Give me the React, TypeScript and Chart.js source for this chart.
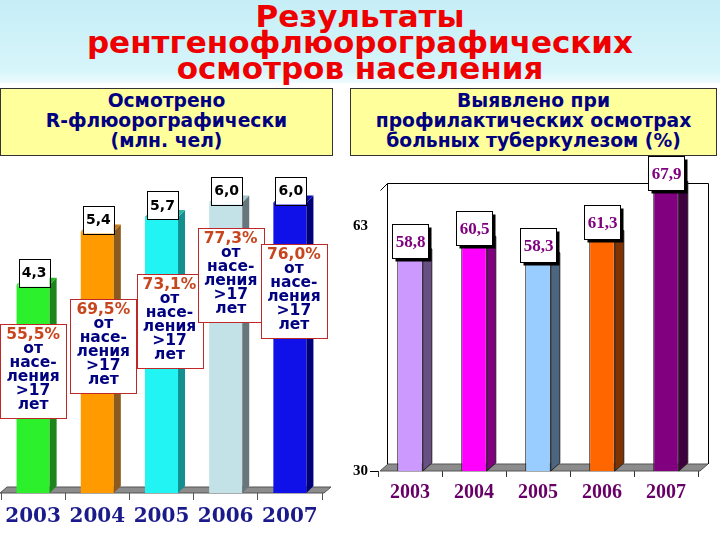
import React, { useEffect, useRef } from "react";
import { Chart, registerables } from "chart.js";

Chart.register(...registerables);

// ---------- data ----------
const years = ["2003", "2004", "2005", "2006", "2007"];
const examinedMillions = [4.3, 5.4, 5.7, 6.0, 6.0];
const shareOfAdults = [55.5, 69.5, 73.1, 77.3, 76.0];
const detectedPercent = [58.8, 60.5, 58.3, 61.3, 67.9];
const detectedTicks = [30, 63];
const shareLines = ["от", "насе-", "ления", ">17", "лет"];

// ---------- styles ----------
const leftFront = ["#2cf02c", "#ff9a00", "#22f4f4", "#c2e2e8", "#1010e8"];
const leftSide = ["#1c861c", "#8c5a1e", "#129090", "#66767a", "#00007a"];
const leftTop = ["#24b824", "#c87a10", "#2cb4a4", "#a4c6cc", "#0a0ab4"];
const rightFront = ["#cc99ff", "#ff00ff", "#99ccff", "#ff6600", "#800080"];
const rightSide = ["#6a4f84", "#80007f", "#4d6680", "#803300", "#400040"];
const rightTop = ["#a07ccc", "#c000c0", "#7aa4cc", "#cc5200", "#600060"];

// annotation layout (pixel offsets of the share boxes relative to each bar top)
const shareBoxDx = [0, 6, 8, 5, 4];
const shareBoxDy = [39, 67, 57, 25, 41];

const fmt = (v: number) => v.toFixed(1).replace(".", ",");

function barGeom(chart: any) {
  const meta = chart.getDatasetMeta(0);
  const bottom = chart.chartArea.bottom;
  return meta.data.map((b: any) => {
    const p = b.getProps(["x", "y", "base", "width"], true);
    return { x: p.x, y: p.y, width: p.width, base: Math.min(p.base, bottom) };
  });
}

function drawSides(ctx: any, bars: any[], dx: number, dy: number, side: string[], top: string[], stroke?: string) {
  bars.forEach((b: any, i: number) => {
    const l = b.x - b.width / 2;
    const r = b.x + b.width / 2;
    ctx.beginPath();
    ctx.moveTo(r, b.y);
    ctx.lineTo(r + dx, b.y - dy);
    ctx.lineTo(r + dx, b.base - dy);
    ctx.lineTo(r, b.base);
    ctx.closePath();
    ctx.fillStyle = side[i];
    ctx.fill();
    if (stroke) { ctx.strokeStyle = stroke; ctx.lineWidth = 1; ctx.stroke(); }
    ctx.beginPath();
    ctx.moveTo(l, b.y);
    ctx.lineTo(l + dx, b.y - dy);
    ctx.lineTo(r + dx, b.y - dy);
    ctx.lineTo(r, b.y);
    ctx.closePath();
    ctx.fillStyle = top[i];
    ctx.fill();
    if (stroke) { ctx.strokeStyle = stroke; ctx.lineWidth = 1; ctx.stroke(); }
  });
}

function drawFloor(ctx: any, a: any, dx: number, dy: number, x0: number, x1: number) {
  ctx.save();
  ctx.beginPath();
  ctx.moveTo(a.left + x0, a.bottom);
  ctx.lineTo(a.right + x1, a.bottom);
  ctx.lineTo(a.right + x1 + dx, a.bottom - dy);
  ctx.lineTo(a.left + x0 + dx, a.bottom - dy);
  ctx.closePath();
  ctx.fillStyle = "#8c8c8c";
  ctx.fill();
  ctx.strokeStyle = "#555";
  ctx.lineWidth = 1;
  ctx.stroke();
  ctx.restore();
}

const leftPlugin = {
  id: "left3d",
  beforeDatasetsDraw(chart: any) {
    drawFloor(chart.ctx, chart.chartArea, 7, 6, -1, 2);
  },
  afterDatasetsDraw(chart: any) {
    const ctx = chart.ctx;
    const bars = barGeom(chart);
    ctx.save();
    drawSides(ctx, bars, 7, 7, leftSide, leftTop);
    // value labels
    bars.forEach((b: any, i: number) => {
      const w = 31, h = 28;
      const bx = b.x + 1 - w / 2;
      const by = b.y + 2 - h;
      ctx.fillStyle = "#fff";
      ctx.fillRect(bx, by, w, h);
      ctx.strokeStyle = "#000";
      ctx.lineWidth = 1;
      ctx.strokeRect(Math.round(bx) + 0.5, Math.round(by) + 0.5, w, h);
      ctx.fillStyle = "#000";
      ctx.font = 'bold 14px "DejaVu Sans"';
      ctx.textAlign = "center";
      ctx.textBaseline = "middle";
      ctx.fillText(fmt(examinedMillions[i]), b.x + 1, by + h / 2 + 1);
    });
    // share boxes
    bars.forEach((b: any, i: number) => {
      const w = 66, h = 94;
      const cx = b.x + shareBoxDx[i];
      const bx = Math.round(cx - w / 2) + 0.5;
      const by = Math.round(b.y + shareBoxDy[i]) + 0.5;
      ctx.fillStyle = "#fff";
      ctx.fillRect(bx, by, w, h);
      ctx.strokeStyle = "#c02828";
      ctx.lineWidth = 1;
      ctx.strokeRect(bx, by, w, h);
      ctx.textAlign = "center";
      ctx.textBaseline = "middle";
      ctx.font = 'bold 15.5px "DejaVu Sans"';
      ctx.fillStyle = "#c8461e";
      ctx.fillText(fmt(shareOfAdults[i]) + "%", cx, by + 10);
      ctx.fillStyle = "#000080";
      shareLines.forEach((t, k) => ctx.fillText(t, cx, by + 24 + 14.1 * k));
    });
    ctx.restore();
  },
};

const rightPlugin = {
  id: "right3d",
  beforeDatasetsDraw(chart: any) {
    const ctx = chart.ctx;
    const a = chart.chartArea;
    const dx = 8, dy = 7;
    ctx.save();
    const wl = Math.round(a.left + dx + 1) + 0.5;
    const wr = Math.round(a.right + dx + 2) + 0.5;
    const wt = Math.round(a.top + 9) + 0.5;
    const wb = a.bottom - dy;
    ctx.fillStyle = "#fff";
    ctx.fillRect(wl, wt, wr - wl, wb - wt);
    ctx.strokeStyle = "#000";
    ctx.lineWidth = 1;
    ctx.beginPath();
    ctx.moveTo(wl, wb);
    ctx.lineTo(wl, wt);
    ctx.lineTo(wr, wt);
    ctx.lineTo(wr, wb);
    ctx.stroke();
    ctx.beginPath();
    ctx.moveTo(wl, wt);
    ctx.lineTo(wl - dx + 1, wt + dy);
    ctx.stroke();
    ctx.restore();
    drawFloor(ctx, a, dx, dy, 2, 2);
  },
  afterDatasetsDraw(chart: any) {
    const ctx = chart.ctx;
    const bars = barGeom(chart);
    ctx.save();
    drawSides(ctx, bars, 9, 8, rightSide, rightTop, "#222");
    bars.forEach((b: any, i: number) => {
      const w = 36, h = 34;
      const bx = Math.round(b.x - w / 2) + 0.5;
      const by = Math.round(b.y + 1 - h) + 0.5;
      ctx.fillStyle = "#000";
      ctx.fillRect(bx + 3, by + 3, w, h);
      ctx.fillStyle = "#fff";
      ctx.fillRect(bx, by, w, h);
      ctx.strokeStyle = "#000";
      ctx.lineWidth = 1;
      ctx.strokeRect(bx, by, w, h);
      ctx.fillStyle = "#800080";
      ctx.font = 'bold 17px "Liberation Serif"';
      ctx.textAlign = "center";
      ctx.textBaseline = "middle";
      ctx.fillText(fmt(detectedPercent[i]), bx + w / 2, by + h / 2 + 1);
    });
    ctx.restore();
  },
};

export default function App() {
  const leftRef = useRef<HTMLCanvasElement>(null);
  const rightRef = useRef<HTMLCanvasElement>(null);

  useEffect(() => {
    const left = new Chart(leftRef.current as HTMLCanvasElement, {
      type: "bar",
      data: {
        labels: years,
        datasets: [
          {
            data: examinedMillions,
            backgroundColor: leftFront,
            borderWidth: 0,
            categoryPercentage: 1,
            barPercentage: 0.515,
          },
        ],
      },
      options: {
        responsive: false,
        animation: false,
        devicePixelRatio: 1,
        events: [],
        layout: { padding: { left: 1, right: 18, top: 13.5, bottom: 7 } },
        plugins: { legend: { display: false }, tooltip: { enabled: false } },
        scales: {
          x: {
            grid: { display: true, drawOnChartArea: false, drawTicks: true, tickLength: 7, color: "#555", offset: true },
            border: { display: false },
            ticks: { color: "#1a1a8a", font: { family: "DejaVu Serif", size: 20, weight: "bold" }, padding: 5 },
            afterFit: (s: any) => { s.height = 40; },
          },
          y: { display: false, min: 0, max: 6.6 },
        },
      } as any,
      plugins: [leftPlugin],
    });

    const right = new Chart(rightRef.current as HTMLCanvasElement, {
      type: "bar",
      data: {
        labels: years,
        datasets: [
          {
            data: detectedPercent,
            backgroundColor: rightFront,
            borderColor: "#222",
            borderWidth: 1,
            categoryPercentage: 1,
            barPercentage: 0.4,
          },
        ],
      },
      options: {
        responsive: false,
        animation: false,
        devicePixelRatio: 1,
        events: [],
        layout: { padding: { left: 0, right: 22, top: 23.8, bottom: 29 } },
        plugins: { legend: { display: false }, tooltip: { enabled: false } },
        scales: {
          x: {
            grid: { display: true, drawOnChartArea: false, drawTicks: true, tickLength: 6, color: "#333", offset: true },
            border: { display: false },
            ticks: { color: "#660066", font: { family: "Liberation Serif", size: 20, weight: "bold" }, padding: 4 },
            afterFit: (s: any) => { s.height = 40; },
          },
          y: {
            min: 30,
            max: 70,
            afterBuildTicks: (s: any) => { s.ticks = detectedTicks.map((v) => ({ value: v })); },
            afterFit: (s: any) => { s.width = 38; },
            grid: {
              display: true,
              drawOnChartArea: false,
              drawTicks: true,
              tickLength: 8,
              color: (c: any) => (c.tick && c.tick.value === detectedTicks[0] ? "#000" : "rgba(0,0,0,0)"),
            },
            border: { display: false },
            ticks: { color: "#000", font: { family: "Liberation Serif", size: 15, weight: "bold" }, padding: 2 },
          },
        },
      } as any,
      plugins: [rightPlugin],
    });

    return () => {
      left.destroy();
      right.destroy();
    };
  }, []);

  const boxText: React.CSSProperties = {
    position: "absolute",
    top: 88,
    height: 68,
    boxSizing: "border-box",
    background: "#ffff9c",
    border: "1px solid #333",
    textAlign: "center",
    font: 'bold 18.7px "DejaVu Sans"',
    lineHeight: "20px",
    color: "#000080",
    paddingTop: 2,
    whiteSpace: "nowrap",
  };

  return (
    <div style={{ position: "absolute", left: 0, top: 0, width: 720, height: 540, background: "#fff", overflow: "hidden" }}>
      <div style={{ position: "absolute", left: 0, top: 0, width: 720, height: 83, background: "linear-gradient(#c6eef6, #d6f5fa 85%, #eefbfd)" }} />
      <div
        style={{
          position: "absolute",
          left: 0,
          top: 3,
          width: 720,
          textAlign: "center",
          font: 'bold 31px "DejaVu Sans"',
          lineHeight: "26px",
          color: "#ee0000",
        }}
      >
        Результаты
        <br />
        рентгенофлюорографических
        <br />
        осмотров населения
      </div>
      <div style={{ ...boxText, left: 0, width: 333 }}>
        Осмотрено
        <br />
        R-флюорографически
        <br />
        (млн. чел)
      </div>
      <div style={{ ...boxText, left: 350, width: 367 }}>
        Выявлено при
        <br />
        профилактических осмотрах
        <br />
        больных туберкулезом (%)
      </div>
      <canvas
        ref={leftRef}
        width={340}
        height={380}
        style={{ position: "absolute", left: 0, top: 160, width: 340, height: 380, display: "block" }}
      />
      <canvas
        ref={rightRef}
        width={380}
        height={390}
        style={{ position: "absolute", left: 340, top: 150, width: 380, height: 390, display: "block" }}
      />
    </div>
  );
}
